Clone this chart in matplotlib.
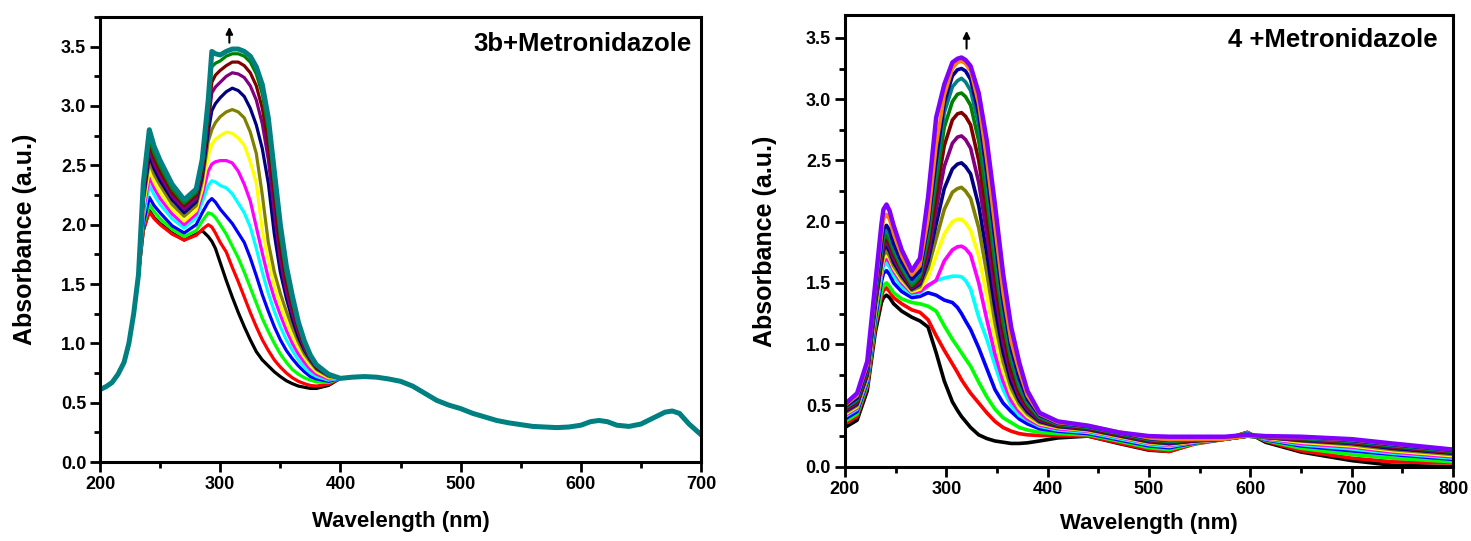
import matplotlib
matplotlib.use("Agg")
import matplotlib.pyplot as plt
from matplotlib.ticker import MultipleLocator, FormatStrFormatter

plt.rcParams["font.family"] = ["Liberation Sans", "DejaVu Sans"]
plt.rcParams["font.weight"] = "bold"

# ---------------- left panel: 3b + Metronidazole ----------------
# steep rise below 235 nm is shared by every trace
wl_rise_left = [200, 205, 210, 215, 220, 224, 228, 232]
abs_rise_left = [0.61, 0.635, 0.67, 0.74, 0.84, 1.0, 1.25, 1.58]

wl_mid_left = [236, 241, 245, 250, 260, 270, 280, 285, 290, 293, 296, 300, 305, 310, 315,
               320, 325, 330, 335, 340, 345, 350, 355, 360, 365, 370, 375, 380, 390]
black_left = [1.95, 2.12, 2.06, 2.01, 1.93, 1.87, 1.92, 1.95, 1.90, 1.86, 1.80, 1.68, 1.53, 1.39, 1.26,
              1.14, 1.03, 0.93, 0.86, 0.81, 0.76, 0.72, 0.685, 0.66, 0.64, 0.63, 0.62, 0.62, 0.645]
red_left = [1.95, 2.11, 2.05, 2.00, 1.92, 1.87, 1.91, 1.96, 2.00, 1.98, 1.93, 1.85, 1.77, 1.64, 1.52,
            1.39, 1.26, 1.14, 1.03, 0.94, 0.86, 0.80, 0.75, 0.71, 0.68, 0.66, 0.645, 0.64, 0.655]
green_left = [1.99, 2.17, 2.11, 2.05, 1.96, 1.90, 1.95, 2.03, 2.10, 2.09, 2.06, 2.00, 1.92, 1.82, 1.72,
              1.60, 1.47, 1.34, 1.21, 1.10, 1.00, 0.91, 0.84, 0.78, 0.74, 0.71, 0.69, 0.675, 0.67]
blue_left = [2.01, 2.23, 2.16, 2.10, 1.99, 1.93, 2.00, 2.10, 2.19, 2.22, 2.19, 2.13, 2.07, 2.01, 1.93,
             1.85, 1.72, 1.57, 1.41, 1.27, 1.14, 1.03, 0.94, 0.87, 0.81, 0.76, 0.72, 0.70, 0.68]
cyan_left = [2.06, 2.33, 2.25, 2.17, 2.05, 1.97, 2.06, 2.19, 2.33, 2.37, 2.36, 2.33, 2.31, 2.26, 2.18,
             2.10, 1.98, 1.80, 1.60, 1.42, 1.27, 1.14, 1.03, 0.94, 0.86, 0.80, 0.75, 0.72, 0.69]
magenta_left = [2.11, 2.40, 2.31, 2.22, 2.09, 2.00, 2.09, 2.25, 2.45, 2.51, 2.53, 2.54, 2.54, 2.52, 2.45,
                2.34, 2.20, 1.98, 1.76, 1.55, 1.38, 1.24, 1.11, 1.00, 0.91, 0.84, 0.78, 0.74, 0.70]
yellow_left = [2.15, 2.46, 2.36, 2.27, 2.13, 2.03, 2.12, 2.30, 2.58, 2.68, 2.72, 2.75, 2.78, 2.77, 2.73,
               2.67, 2.53, 2.35, 1.95, 1.70, 1.48, 1.32, 1.18, 1.06, 0.96, 0.88, 0.81, 0.76, 0.71]
olive_left = [2.19, 2.53, 2.42, 2.33, 2.17, 2.07, 2.16, 2.36, 2.70, 2.80, 2.86, 2.91, 2.95, 2.97, 2.95,
              2.90, 2.78, 2.60, 2.25, 1.85, 1.60, 1.42, 1.27, 1.13, 1.01, 0.91, 0.84, 0.78, 0.72]
navy_left = [2.22, 2.58, 2.47, 2.37, 2.21, 2.10, 2.19, 2.40, 2.78, 2.96, 3.02, 3.07, 3.12, 3.15, 3.13,
             3.08, 2.98, 2.84, 2.64, 2.35, 1.92, 1.60, 1.38, 1.20, 1.05, 0.94, 0.86, 0.79, 0.73]
purple_left = [2.25, 2.63, 2.51, 2.41, 2.24, 2.13, 2.22, 2.44, 2.86, 3.11, 3.16, 3.20, 3.25, 3.28, 3.27,
               3.24, 3.17, 3.05, 2.85, 2.55, 2.10, 1.70, 1.44, 1.25, 1.09, 0.96, 0.87, 0.80, 0.73]
maroon_left = [2.28, 2.68, 2.56, 2.45, 2.27, 2.16, 2.25, 2.47, 2.90, 3.20, 3.26, 3.30, 3.34, 3.37, 3.37,
               3.34, 3.28, 3.17, 2.98, 2.68, 2.25, 1.80, 1.52, 1.31, 1.12, 0.98, 0.88, 0.80, 0.735]
dkgreen_left = [2.30, 2.72, 2.60, 2.49, 2.30, 2.18, 2.27, 2.50, 2.95, 3.33, 3.36, 3.38, 3.42, 3.44, 3.44,
                3.42, 3.37, 3.27, 3.10, 2.80, 2.35, 1.90, 1.58, 1.35, 1.15, 1.00, 0.89, 0.81, 0.74]
teal_left = [2.35, 2.80, 2.66, 2.54, 2.34, 2.21, 2.30, 2.55, 3.05, 3.46, 3.44, 3.43, 3.46, 3.48, 3.48,
             3.46, 3.42, 3.33, 3.18, 2.90, 2.45, 2.00, 1.65, 1.40, 1.18, 1.02, 0.90, 0.82, 0.74]

# visible region, all traces lie on top of each other
wl_tail_left = [400, 410, 420, 430, 440, 450, 460, 470, 480, 490, 500, 510, 520, 530, 540, 550, 560,
                570, 580, 590, 600, 608, 615, 622, 630, 640, 650, 660, 670, 676, 682, 690, 700]
abs_tail_left = [0.705, 0.715, 0.72, 0.715, 0.70, 0.68, 0.64, 0.58, 0.52, 0.48, 0.45, 0.41, 0.38, 0.35,
                 0.33, 0.315, 0.30, 0.295, 0.29, 0.295, 0.31, 0.34, 0.35, 0.34, 0.31, 0.30, 0.32, 0.37,
                 0.42, 0.43, 0.41, 0.32, 0.23]

left_series = [black_left, red_left, green_left, blue_left, cyan_left, magenta_left, yellow_left,
               olive_left, navy_left, purple_left, maroon_left, dkgreen_left, teal_left]
left_colors = ["#000000", "#ff0000", "#00ff00", "#0000ff", "#00ffff", "#ff00ff", "#ffff00",
               "#808000", "#000080", "#800080", "#800000", "#008000", "#008080"]

# ---------------- right panel: 4 + Metronidazole ----------------
wl_right = [200, 212, 222, 230, 236, 238, 241, 244, 248, 256, 266, 274, 282, 290, 298, 306, 311, 315,
            319, 324, 332, 340, 348, 356, 364, 372, 380, 392, 410, 440, 470, 500, 520, 545, 575, 597,
            615, 650, 700, 740, 800]
black_right = [0.32, 0.38, 0.62, 1.10, 1.34, 1.38, 1.40, 1.38, 1.33, 1.27, 1.22, 1.19, 1.14, 0.93, 0.70,
               0.53, 0.46, 0.41, 0.37, 0.32, 0.26, 0.23, 0.21, 0.20, 0.19, 0.19, 0.195, 0.21, 0.235,
               0.25, 0.19, 0.135, 0.125, 0.19, 0.225, 0.28, 0.20, 0.12, 0.05, 0.012, 0.0]
red_right = [0.35, 0.41, 0.65, 1.14, 1.39, 1.44, 1.46, 1.43, 1.38, 1.33, 1.28, 1.26, 1.20, 1.07, 0.95,
             0.84, 0.77, 0.71, 0.66, 0.60, 0.52, 0.44, 0.37, 0.32, 0.29, 0.27, 0.26, 0.255, 0.255,
             0.25, 0.195, 0.14, 0.125, 0.185, 0.225, 0.28, 0.21, 0.13, 0.07, 0.04, 0.03]
green_right = [0.37, 0.43, 0.67, 1.17, 1.43, 1.48, 1.50, 1.47, 1.42, 1.37, 1.34, 1.33, 1.31, 1.27, 1.15,
               1.04, 0.98, 0.93, 0.88, 0.82, 0.69, 0.57, 0.47, 0.40, 0.36, 0.32, 0.30, 0.28, 0.27,
               0.26, 0.21, 0.155, 0.14, 0.19, 0.225, 0.275, 0.215, 0.15, 0.10, 0.07, 0.04]
blue_right = [0.39, 0.45, 0.69, 1.21, 1.51, 1.58, 1.60, 1.57, 1.50, 1.43, 1.38, 1.39, 1.42, 1.40, 1.36,
              1.34, 1.30, 1.25, 1.19, 1.12, 0.97, 0.80, 0.63, 0.52, 0.45, 0.39, 0.35, 0.31, 0.29,
              0.27, 0.22, 0.17, 0.155, 0.195, 0.225, 0.27, 0.22, 0.17, 0.13, 0.10, 0.06]
cyan_right = [0.41, 0.47, 0.71, 1.25, 1.56, 1.64, 1.66, 1.63, 1.56, 1.47, 1.41, 1.42, 1.47, 1.52, 1.54,
              1.555, 1.555, 1.55, 1.52, 1.45, 1.22, 1.04, 0.83, 0.63, 0.50, 0.42, 0.38, 0.33, 0.30,
              0.28, 0.23, 0.18, 0.165, 0.20, 0.225, 0.265, 0.225, 0.18, 0.145, 0.11, 0.07]
magenta_right = [0.42, 0.48, 0.72, 1.27, 1.59, 1.67, 1.70, 1.67, 1.60, 1.50, 1.42, 1.43, 1.48, 1.52,
                 1.68, 1.77, 1.795, 1.80, 1.78, 1.73, 1.50, 1.20, 0.92, 0.70, 0.54, 0.45, 0.39, 0.34,
                 0.31, 0.29, 0.24, 0.19, 0.175, 0.20, 0.225, 0.26, 0.23, 0.19, 0.16, 0.12, 0.08]
yellow_right = [0.43, 0.49, 0.73, 1.29, 1.61, 1.70, 1.73, 1.70, 1.62, 1.52, 1.43, 1.45, 1.55, 1.72, 1.90,
                2.00, 2.02, 2.02, 1.99, 1.93, 1.72, 1.40, 1.05, 0.78, 0.59, 0.48, 0.41, 0.35, 0.32,
                0.295, 0.245, 0.195, 0.18, 0.205, 0.225, 0.26, 0.235, 0.20, 0.17, 0.13, 0.09]
olive_right = [0.44, 0.50, 0.74, 1.31, 1.64, 1.73, 1.76, 1.72, 1.64, 1.54, 1.44, 1.47, 1.62, 1.86, 2.10,
               2.24, 2.27, 2.28, 2.25, 2.19, 1.95, 1.58, 1.18, 0.86, 0.64, 0.51, 0.43, 0.36, 0.325,
               0.30, 0.25, 0.20, 0.185, 0.21, 0.225, 0.255, 0.24, 0.21, 0.18, 0.14, 0.10]
navy_right = [0.45, 0.51, 0.75, 1.33, 1.67, 1.77, 1.80, 1.76, 1.67, 1.56, 1.45, 1.49, 1.68, 1.98, 2.27,
              2.43, 2.47, 2.48, 2.45, 2.39, 2.13, 1.74, 1.30, 0.94, 0.69, 0.54, 0.45, 0.37, 0.33,
              0.305, 0.255, 0.205, 0.19, 0.21, 0.225, 0.255, 0.24, 0.215, 0.19, 0.15, 0.11]
purple_right = [0.46, 0.52, 0.76, 1.35, 1.70, 1.80, 1.83, 1.79, 1.70, 1.58, 1.46, 1.51, 1.74, 2.10, 2.45,
                2.64, 2.69, 2.70, 2.67, 2.60, 2.32, 1.90, 1.43, 1.02, 0.74, 0.57, 0.47, 0.38, 0.335,
                0.31, 0.26, 0.21, 0.195, 0.215, 0.225, 0.25, 0.24, 0.22, 0.195, 0.16, 0.115]
maroon_right = [0.47, 0.53, 0.78, 1.37, 1.73, 1.83, 1.86, 1.82, 1.73, 1.60, 1.47, 1.53, 1.80, 2.22, 2.62,
                2.83, 2.88, 2.89, 2.86, 2.79, 2.50, 2.05, 1.55, 1.10, 0.79, 0.60, 0.49, 0.39, 0.34,
                0.315, 0.265, 0.215, 0.20, 0.215, 0.225, 0.25, 0.24, 0.225, 0.20, 0.165, 0.12]
dkgreen_right = [0.48, 0.54, 0.79, 1.39, 1.75, 1.86, 1.89, 1.85, 1.76, 1.62, 1.48, 1.55, 1.86, 2.33,
                 2.77, 2.98, 3.04, 3.05, 3.02, 2.95, 2.66, 2.19, 1.66, 1.18, 0.86, 0.64, 0.51, 0.40,
                 0.345, 0.32, 0.27, 0.22, 0.205, 0.22, 0.225, 0.25, 0.24, 0.23, 0.205, 0.17, 0.125]
teal_right = [0.48, 0.55, 0.80, 1.41, 1.78, 1.90, 1.93, 1.89, 1.79, 1.64, 1.50, 1.57, 1.92, 2.43, 2.89,
              3.10, 3.15, 3.17, 3.14, 3.07, 2.79, 2.31, 1.76, 1.27, 0.91, 0.67, 0.53, 0.41, 0.35,
              0.325, 0.275, 0.225, 0.21, 0.22, 0.225, 0.25, 0.24, 0.235, 0.21, 0.175, 0.13]
royal_right = [0.49, 0.56, 0.81, 1.43, 1.82, 1.94, 1.97, 1.93, 1.82, 1.67, 1.53, 1.60, 1.97, 2.50, 2.97,
               3.19, 3.24, 3.25, 3.23, 3.16, 2.88, 2.40, 1.86, 1.34, 0.96, 0.72, 0.55, 0.42, 0.355,
               0.33, 0.28, 0.23, 0.215, 0.225, 0.225, 0.25, 0.245, 0.24, 0.215, 0.18, 0.135]
orange_right = [0.50, 0.58, 0.83, 1.46, 1.89, 2.02, 2.06, 2.02, 1.90, 1.72, 1.565, 1.64, 2.02, 2.62,
                3.03, 3.25, 3.30, 3.31, 3.29, 3.23, 2.96, 2.50, 1.96, 1.42, 1.02, 0.78, 0.58, 0.43,
                0.36, 0.335, 0.285, 0.235, 0.22, 0.225, 0.225, 0.25, 0.245, 0.24, 0.22, 0.185, 0.14]
violet_right = [0.51, 0.60, 0.86, 1.50, 1.98, 2.10, 2.14, 2.09, 1.97, 1.77, 1.60, 1.70, 2.20, 2.85, 3.12,
                3.30, 3.33, 3.34, 3.32, 3.27, 3.05, 2.66, 2.14, 1.58, 1.14, 0.85, 0.62, 0.44, 0.37,
                0.335, 0.28, 0.25, 0.245, 0.245, 0.245, 0.26, 0.25, 0.245, 0.225, 0.19, 0.14]

right_series = [black_right, red_right, green_right, blue_right, cyan_right, magenta_right,
                yellow_right, olive_right, navy_right, purple_right, maroon_right, dkgreen_right,
                teal_right, royal_right, orange_right, violet_right]
right_colors = left_colors + ["#0000a0", "#ff8000", "#8000ff"]


def style_axes(ax, xmax, ymax, xlab_y, ylab_x):
    ax.set_xlim(200, xmax)
    ax.set_ylim(0, ymax)
    ax.xaxis.set_major_locator(MultipleLocator(100))
    ax.xaxis.set_minor_locator(MultipleLocator(50))
    ax.yaxis.set_major_locator(MultipleLocator(0.5))
    ax.yaxis.set_minor_locator(MultipleLocator(0.25))
    ax.yaxis.set_major_formatter(FormatStrFormatter("%.1f"))
    ax.tick_params(which="major", direction="out", length=7, width=2, labelsize=13, pad=3)
    ax.tick_params(which="minor", direction="out", length=4, width=2)
    for lab in ax.get_xticklabels() + ax.get_yticklabels():
        lab.set_fontweight("bold")
    for sp in ax.spines.values():
        sp.set_linewidth(2.2)
    ax.set_xlabel("Wavelength (nm)", fontsize=16, fontweight="bold", va="center")
    ax.set_ylabel("Absorbance (a.u.)", fontsize=18, fontweight="bold", va="center")
    ax.xaxis.set_label_coords(0.5, xlab_y)
    ax.yaxis.set_label_coords(ylab_x, 0.5)


fig = plt.figure(figsize=(14.71, 5.41), dpi=100)

ax1 = fig.add_axes([0.0680, 0.146, 0.4086, 0.8226])
for vals, col in zip(left_series, left_colors):
    lw = 3.6 if col == "#008080" else 2.3
    ax1.plot(wl_rise_left + wl_mid_left + wl_tail_left,
             abs_rise_left + vals + abs_tail_left,
             color=col, lw=lw, solid_joinstyle="round")
style_axes(ax1, 700, 3.75, -0.1326, -0.1248)
ax1.text(0.985, 0.94, "3b+Metronidazole", transform=ax1.transAxes, ha="right", va="center",
         fontsize=18.5, fontweight="bold")
ax1.annotate("", xy=(307.6, 3.69), xytext=(307.6, 3.51),
             arrowprops=dict(arrowstyle="-|>", color="black", lw=1.5, mutation_scale=10))

ax2 = fig.add_axes([0.5744, 0.1373, 0.4134, 0.835])
for vals, col in zip(right_series, right_colors):
    lw = 3.2 if col == "#8000ff" else 2.6
    ax2.plot(wl_right, vals, color=col, lw=lw, solid_joinstyle="round")
style_axes(ax2, 800, 3.687, -0.1246, -0.1316)
ax2.text(0.975, 0.945, "4 +Metronidazole", transform=ax2.transAxes, ha="right", va="center",
         fontsize=18.5, fontweight="bold")
ax2.annotate("", xy=(320, 3.58), xytext=(320, 3.39),
             arrowprops=dict(arrowstyle="-|>", color="black", lw=1.5, mutation_scale=10))

fig.savefig("out.png", dpi=100)
